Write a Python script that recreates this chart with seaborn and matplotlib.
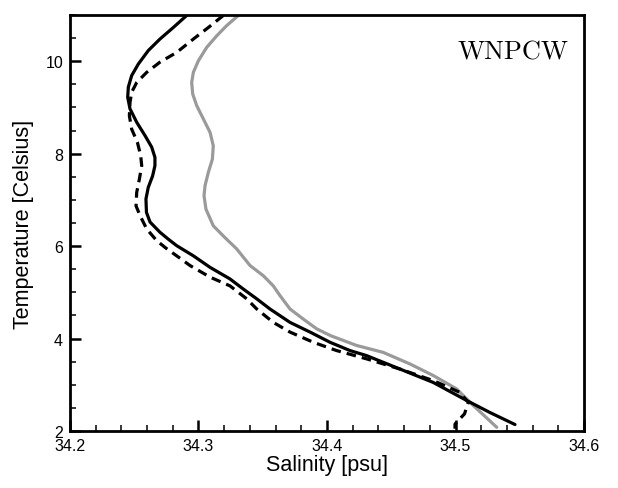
import matplotlib
matplotlib.use("Agg")
import matplotlib.pyplot as plt
import seaborn as sns
import pandas as pd
from matplotlib.ticker import MultipleLocator

# Black solid profile (temperature, salinity)
solid_T = [10.99, 10.73, 10.48, 10.23, 9.94, 9.69, 9.44, 9.22, 8.97, 8.68, 8.39, 8.14, 7.92, 7.74,
           7.52, 7.27, 7.02, 6.73, 6.52, 6.30, 6.15, 6.01, 5.79, 5.54, 5.29, 5.07, 4.86, 4.64, 4.35,
           4.14, 3.92, 3.74, 3.63, 3.34, 3.05, 2.66, 2.40, 2.14]
solid_S = [34.2908, 34.2804, 34.2700, 34.2609, 34.2532, 34.2480, 34.2454, 34.2449, 34.2467, 34.2519,
           34.2584, 34.2636, 34.2661, 34.2661, 34.2643, 34.2609, 34.2591, 34.2595, 34.2623, 34.2700,
           34.2765, 34.2830, 34.2960, 34.3090, 34.3245, 34.3349, 34.3453, 34.3556, 34.3712, 34.3868,
           34.4023, 34.4179, 34.4309, 34.4568, 34.4827, 34.5087, 34.5268, 34.5463]

# Black dashed profile
dashed_T = [10.99, 10.73, 10.48, 10.19, 9.98, 9.76, 9.54, 9.33, 9.11, 8.82, 8.53, 8.25, 7.96, 7.74,
            7.45, 7.16, 6.87, 6.66, 6.37, 6.12, 5.96, 5.79, 5.58, 5.33, 5.14, 4.86, 4.64, 4.35, 4.14,
            3.92, 3.74, 3.56, 3.34, 3.09, 2.84, 2.62, 2.37, 2.15, 2.05]
dashed_S = [34.3193, 34.3077, 34.2960, 34.2830, 34.2700, 34.2597, 34.2519, 34.2480, 34.2467, 34.2462,
            34.2480, 34.2524, 34.2550, 34.2558, 34.2540, 34.2519, 34.2514, 34.2545, 34.2597, 34.2674,
            34.2745, 34.2830, 34.2934, 34.3089, 34.3245, 34.3375, 34.3453, 34.3582, 34.3712, 34.3893,
            34.4075, 34.4309, 34.4568, 34.4827, 34.5030, 34.5100, 34.5070, 34.4996, 34.4996]

# Gray profile
gray_T = [10.99, 10.77, 10.55, 10.30, 10.01, 9.76, 9.54, 9.29, 9.04, 8.75, 8.46, 8.17, 7.88, 7.60,
          7.31, 7.09, 6.80, 6.44, 6.20, 5.94, 5.58, 5.36, 5.14, 4.93, 4.64, 4.42, 4.21, 4.06,
          3.85, 3.70, 3.45, 3.20, 2.91, 2.55, 2.08]
gray_S = [34.3310, 34.3219, 34.3142, 34.3064, 34.2999, 34.2960, 34.2947, 34.2955, 34.2986, 34.3038,
          34.3090, 34.3115, 34.3108, 34.3077, 34.3051, 34.3043, 34.3058, 34.3115, 34.3200, 34.3297,
          34.3401, 34.3504, 34.3582, 34.3634, 34.3712, 34.3816, 34.3920, 34.4030, 34.4231, 34.4438,
          34.4646, 34.4827, 34.5009, 34.5139, 34.5321]

x_ticks = [34.2, 34.3, 34.4, 34.5, 34.6]
y_ticks = [2, 4, 6, 8, 10]

sns.set_style("ticks")
plt.rcParams['font.family'] = ['Liberation Sans', 'DejaVu Sans']
plt.rcParams['text.color'] = 'black'
plt.rcParams['axes.labelcolor'] = 'black'

fig = plt.figure(figsize=(6.18, 4.89), dpi=100)
ax = fig.add_axes([70/618, 1-432/489, (584-70)/618, (432-16)/489])

def prof(S, T, name):
    return pd.DataFrame({"S": S, "T": T, "series": name})

df_gray = prof(gray_S, gray_T, "gray")
df_solid = prof(solid_S, solid_T, "solid")
df_dash = prof(dashed_S, dashed_T, "dashed")

kw = dict(x="S", y="T", sort=False, estimator=None, ax=ax, lw=2.3, solid_joinstyle="round")
sns.lineplot(data=df_gray, color="#9a9a9a", **kw)
sns.lineplot(data=df_dash, color="black", linestyle=(0, (3.0, 1.9)), **kw)
sns.lineplot(data=df_solid, color="black", **kw)

ax.set_xlim(34.2, 34.6)
ax.set_ylim(2, 11)
ax.set_xticks(x_ticks)
ax.set_yticks(y_ticks)
ax.set_xticklabels([f"{v:.1f}" for v in x_ticks])
ax.set_yticklabels([str(v) for v in y_ticks])
ax.xaxis.set_minor_locator(MultipleLocator(0.02))
ax.yaxis.set_minor_locator(MultipleLocator(0.5))
ax.tick_params(which="major", direction="in", length=8, width=1.8, labelsize=11.5, pad=5,
               color="black", labelcolor="black")
ax.tick_params(which="minor", direction="in", length=4.3, width=1.1, color="black")
for sp in ax.spines.values():
    sp.set_linewidth(2.0)
    sp.set_color("black")
    sp.set_visible(True)

ax.set_xlabel("Salinity [psu]", fontsize=15.5, labelpad=1)
ax.set_ylabel("Temperature [Celsius]", fontsize=15.5, labelpad=8)
ax.text(0.969, 0.911, "WNPCW", transform=ax.transAxes, ha="right", va="center",
        fontsize=19, family=["cmr10", "Liberation Serif", "DejaVu Serif"])

fig.savefig("out.png", dpi=100)
